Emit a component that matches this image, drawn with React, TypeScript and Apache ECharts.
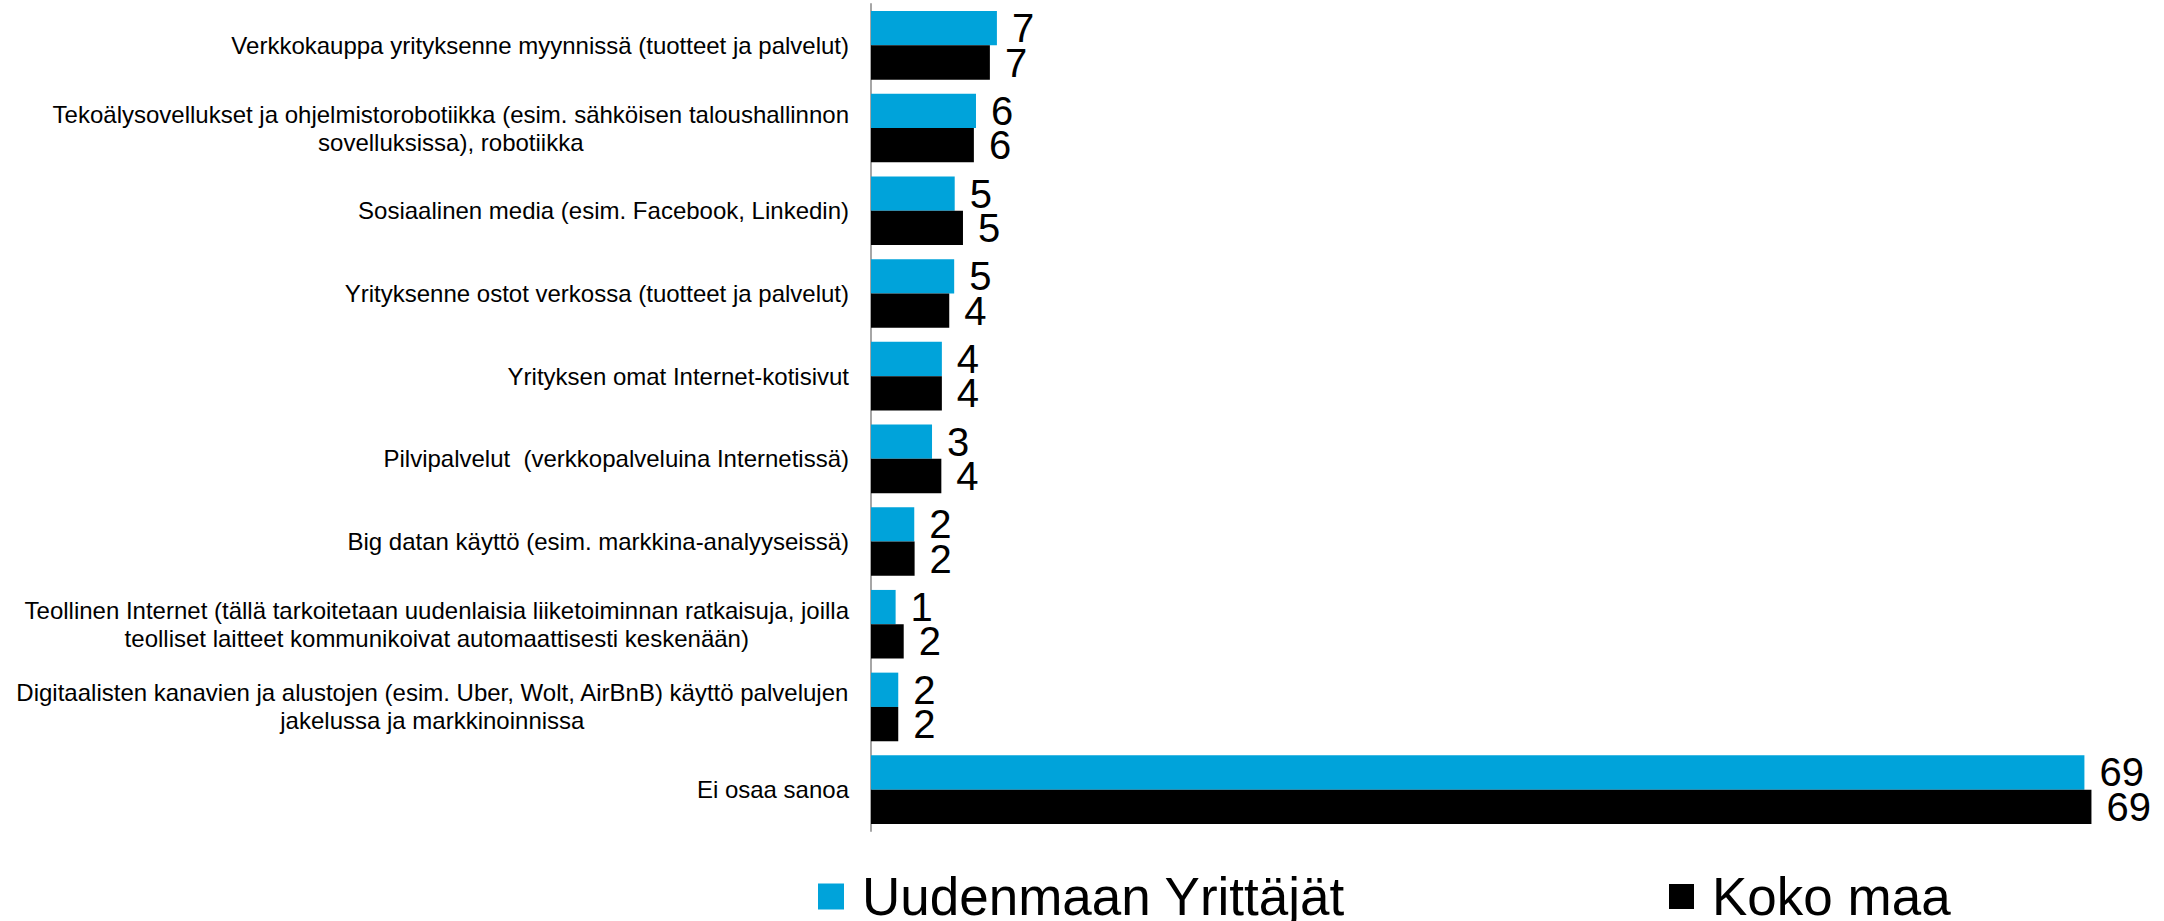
import React, { useEffect, useRef } from "react";
import * as echarts from "echarts";

const categories: string[] = [
  "Verkkokauppa yrityksenne myynnissä (tuotteet ja palvelut)",
  "Tekoälysovellukset ja ohjelmistorobotiikka (esim. sähköisen taloushallinnon\nsovelluksissa), robotiikka",
  "Sosiaalinen media (esim. Facebook, Linkedin)",
  "Yrityksenne ostot verkossa (tuotteet ja palvelut)",
  "Yrityksen omat Internet-kotisivut",
  "Pilvipalvelut  (verkkopalveluina Internetissä)",
  "Big datan käyttö (esim. markkina-analyyseissä)",
  "Teollinen Internet (tällä tarkoitetaan uudenlaisia liiketoiminnan ratkaisuja, joilla\nteolliset laitteet kommunikoivat automaattisesti keskenään)",
  "Digitaalisten kanavien ja alustojen (esim. Uber, Wolt, AirBnB) käyttö palvelujen\njakelussa ja markkinoinnissa",
  "Ei osaa sanoa",
];

const seriesNames: string[] = ["Uudenmaan Yrittäjät", "Koko maa"];

const uusimaaValues: number[] = [7.16, 5.97, 4.76, 4.73, 4.03, 3.47, 2.46, 1.4, 1.55, 69.0];
const kokoMaaValues: number[] = [6.76, 5.85, 5.23, 4.45, 4.03, 4.0, 2.48, 1.86, 1.55, 69.4];

const FONT = "'Liberation Sans', Arial, sans-serif";

export default function App() {
  const ref = useRef<HTMLDivElement>(null);

  useEffect(() => {
    if (!ref.current) return;
    const chart = echarts.init(ref.current, null, { renderer: "svg" });

    const valueLabel = {
      show: true,
      position: "right" as const,
      distance: 15,
      fontSize: 40,
      fontFamily: FONT,
      color: "#000",
      formatter: (p: any) => String(Math.round(p.value)),
    };

    const legendText = {
      fontSize: 53,
      fontFamily: FONT,
      color: "#000",
      lineHeight: 48,
      padding: [0, 0, 0, 13],
    };

    chart.setOption({
      animation: false,
      backgroundColor: "#fff",
      grid: { left: 871, top: 4, width: 1231, height: 827, containLabel: false },
      xAxis: {
        type: "value",
        min: 0,
        max: 70,
        show: false,
      },
      yAxis: {
        type: "category",
        inverse: true,
        data: categories,
        axisLine: { show: true, lineStyle: { color: "#A6A6A6", width: 2 } },
        axisTick: { show: false },
        splitLine: { show: false },
        axisLabel: {
          margin: 22,
          align: "right",
          formatter: (v: string) =>
            v
              .split("\n")
              .map((l) => `{c|${l}}`)
              .join("\n"),
          rich: {
            c: {
              fontSize: 24,
              lineHeight: 28,
              fontFamily: FONT,
              color: "#000",
              align: "center",
            },
          },
        },
      },
      legend: [
        {
          data: [seriesNames[0]],
          left: 818,
          top: 870,
          padding: 0,
          icon: "rect",
          itemWidth: 26,
          itemHeight: 26,
          textStyle: legendText,
        },
        {
          data: [seriesNames[1]],
          left: 1669,
          top: 870,
          padding: 0,
          icon: "rect",
          itemWidth: 25,
          itemHeight: 25,
          textStyle: legendText,
        },
      ],
      series: [
        {
          name: seriesNames[0],
          type: "bar",
          data: uusimaaValues,
          barGap: "0%",
          barCategoryGap: "17%",
          itemStyle: { color: "#00A3DA" },
          label: valueLabel,
        },
        {
          name: seriesNames[1],
          type: "bar",
          data: kokoMaaValues,
          barGap: "0%",
          barCategoryGap: "17%",
          itemStyle: { color: "#000000" },
          label: valueLabel,
        },
      ],
    });

    return () => chart.dispose();
  }, []);

  return (
    <div
      ref={ref}
      style={{ position: "fixed", left: 0, top: 0, width: 2164, height: 921, background: "#fff" }}
    />
  );
}
